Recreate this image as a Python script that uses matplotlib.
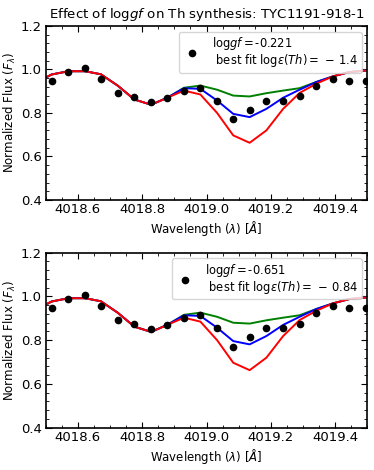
import numpy as np
import matplotlib
matplotlib.use('Agg')
import matplotlib.pyplot as plt
from matplotlib.ticker import MultipleLocator

# observed spectrum
obs_wave = [4018.519, 4018.571, 4018.623, 4018.672, 4018.724, 4018.776, 4018.828,
            4018.878, 4018.930, 4018.981, 4019.033, 4019.083, 4019.134, 4019.186,
            4019.238, 4019.289, 4019.340, 4019.392, 4019.443, 4019.494]
obs_flux = [0.946, 0.988, 1.006, 0.955, 0.893, 0.873, 0.850,
            0.870, 0.900, 0.914, 0.854, 0.771, 0.815, 0.854,
            0.854, 0.876, 0.925, 0.955, 0.946, 0.946]

# synthetic spectra
syn_wave = [4018.500, 4018.519, 4018.571, 4018.623, 4018.672, 4018.724, 4018.776,
            4018.828, 4018.878, 4018.930, 4018.981, 4019.033, 4019.083, 4019.134,
            4019.186, 4019.238, 4019.289, 4019.340, 4019.392, 4019.443, 4019.494]
syn_green = [0.962, 0.977, 0.992, 0.992, 0.978, 0.926, 0.862,
             0.838, 0.870, 0.916, 0.926, 0.907, 0.880, 0.876,
             0.891, 0.903, 0.914, 0.942, 0.968, 0.988, 0.995]
syn_blue = [0.962, 0.977, 0.992, 0.992, 0.978, 0.926, 0.862,
            0.838, 0.870, 0.914, 0.911, 0.857, 0.796, 0.781,
            0.819, 0.870, 0.907, 0.942, 0.968, 0.988, 0.995]
syn_red = [0.962, 0.977, 0.992, 0.992, 0.978, 0.926, 0.862,
           0.838, 0.870, 0.903, 0.885, 0.800, 0.697, 0.663,
           0.720, 0.819, 0.892, 0.934, 0.968, 0.988, 0.995]

loggf_vals = ['-0.221', '-0.651']
best_fit = ['1.4', '0.84']

fig = plt.figure(figsize=(3.74, 4.70), dpi=100)
ax1 = fig.add_axes([0.1217, 0.5745, 0.8609, 0.3702])
ax2 = fig.add_axes([0.1217, 0.0900, 0.8609, 0.3723])

for ax, gf, fit in zip([ax1, ax2], loggf_vals, best_fit):
    ax.plot(syn_wave, syn_green, color='green', lw=1.4)
    ax.plot(syn_wave, syn_blue, color='blue', lw=1.4)
    ax.plot(syn_wave, syn_red, color='red', lw=1.4)
    ax.plot(obs_wave, obs_flux, 'o', color='black', ms=4.5,
            label='log$gf = $' + gf + '\n best fit log$\\epsilon(Th) = \\,-\\,' + fit + '$')
    ax.set_xlim(4018.5, 4019.5)
    ax.set_ylim(0.4, 1.2)
    ax.xaxis.set_major_locator(MultipleLocator(0.2))
    ax.xaxis.set_minor_locator(MultipleLocator(0.05))
    ax.yaxis.set_major_locator(MultipleLocator(0.2))
    ax.yaxis.set_minor_locator(MultipleLocator(0.04))
    ax.tick_params(which='both', direction='in', top=True, right=True, labelsize=9.5)
    ax.tick_params(which='major', length=4, pad=2.5)
    ax.tick_params(which='minor', length=2)
    ax.set_xticks([4018.6, 4018.8, 4019.0, 4019.2, 4019.4])
    ax.set_xticklabels(['4018.6', '4018.8', '4019.0', '4019.2', '4019.4'])
    ax.set_xlabel(r'Wavelength ($\lambda$) [$\AA$]', fontsize=8.5, labelpad=2)
    ax.set_ylabel(r'Normalized Flux ($F_\lambda$)', fontsize=8.5, labelpad=2)
    for s in ax.spines.values():
        s.set_linewidth(1.2)
    leg = ax.legend(loc='upper right', fontsize=8.3, handletextpad=0.8, borderpad=0.3,
                    handlelength=1.8, fancybox=True)
    for t in leg.get_texts():
        t.set_linespacing(1.0)

ax1.set_title('Effect of log$gf$ on Th synthesis: TYC1191-918-1', fontsize=9.6)

plt.savefig('out.png', dpi=100)
